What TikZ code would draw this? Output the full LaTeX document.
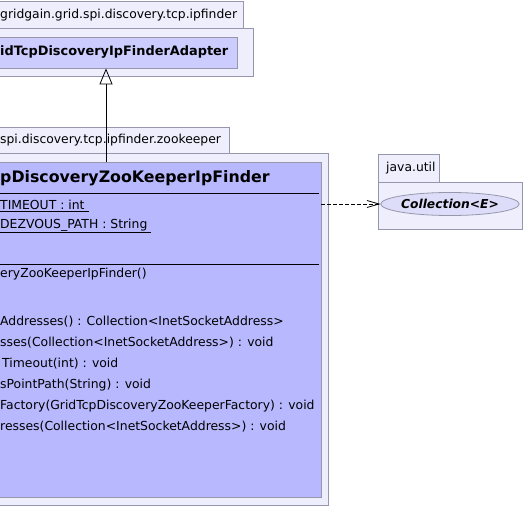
\documentclass[tikz,border=0pt]{standalone}
\usepackage{fontspec}
\setmainfont{DejaVu Sans}
\usetikzlibrary{arrows.meta, shapes.geometric}
\definecolor{pkgfill}{RGB}{238,238,252}
\definecolor{pkgline}{RGB}{150,150,172}
\definecolor{clsfill}{RGB}{184,184,255}
\definecolor{supfill}{RGB}{204,204,255}
\definecolor{extfill}{RGB}{221,221,250}
\tikzset{
    pkg/.style={draw=pkgline, fill=pkgfill, line width=.8pt},
    clsbox/.style={draw=pkgline, line width=.8pt, inner sep=0pt},
    txt/.style={anchor=west, inner sep=0pt, font=\fontsize{12.4}{14}\selectfont},
    gen/.style={-{Triangle[open, width=13pt, length=16pt]}, line width=.8pt},
    dep/.style={-{Straight Barb[width=7pt, length=12pt]}, dashed, dash pattern=on 4pt off 2pt, line width=.8pt}
}
\newcommand{\umlPkg}[5]{
    \draw[pkg](-5, #4)rectangle(#2, #5);
    \draw[pkg](-5, #5)rectangle(#3, #1)
}

\begin{document}
\begin{tikzpicture}[x=1pt, y=-1pt]
    \useasboundingbox (0, 0) rectangle (524, 508);
    % packages
    \umlPkg{76}{243}{253}{1}{28};
    \umlPkg{505}{229}{328}{127}{153};
    \draw[pkg](378, 154)rectangle(439, 182);
    \draw[pkg](378, 182)rectangle(522, 229);
    \node[txt, font=\fontsize{12.35}{14}\selectfont] (pkgtop) at (0, 15) {gridgain.grid.spi.discovery.tcp.ipfinder};
    \node[txt, font=\fontsize{12.35}{14}\selectfont] (pkgzk) at (0, 140) {spi.discovery.tcp.ipfinder.zookeeper};
    \node[txt, font=\fontsize{12.35}{14}\selectfont] (pkgutil) at (386, 168) {java.util};
    % classes
    \node[clsbox, fill=supfill, minimum width=242pt, minimum height=31pt] (adapter) at (116, 52.5) {};
    \node[txt, font=\fontsize{12.9}{15}\selectfont\bfseries] (adaptername) at (0, 52) {idTcpDiscoveryIpFinderAdapter};
    \node[clsbox, fill=clsfill, minimum width=326pt, minimum height=335pt] (zk) at (158, 329.5) {};
    \node[clsbox, ellipse, fill=extfill, minimum width=128pt, minimum height=23pt,
        font=\fontsize{12.3}{14}\selectfont\bfseries\itshape] (coll) at (450, 204) {Collection<E>};
    \draw[line width=.8pt](zk.west |- 0, 193)--(319, 193);
    \draw[line width=.8pt](zk.west |- 0, 264)--(319, 264);
    \node[txt, font=\fontsize{15.8}{18}\selectfont\bfseries] (zkname) at (0, 178) {pDiscoveryZooKeeperIpFinder};
    \node[txt] (a1) at (0, 206) {\underline{TIMEOUT : int~}};
    \node[txt] (a2) at (0, 226) {\underline{DEZVOUS\_PATH : String~}};
    \node[txt] (m0) at (0, 274) {eryZooKeeperIpFinder()};
    \node[txt] (m1) at (0, 322) {Addresses() : Collection<InetSocketAddress>};
    \node[txt] (m2) at (0, 343) {sses(Collection<InetSocketAddress>) : void};
    \node[txt] (m3) at (2, 364) {Timeout(int) : void};
    \node[txt] (m4) at (0, 385) {sPointPath(String) : void};
    \node[txt] (m5) at (0, 406) {Factory(GridTcpDiscoveryZooKeeperFactory) : void};
    \node[txt] (m6) at (0, 427) {resses(Collection<InetSocketAddress>) : void};
    % relations
    \coordinate (genx) at (106, 0);
    \draw[gen](zk.north -| genx)--(adapter.south -| genx);
    \draw[dep](zk.east |- coll.west)--(coll.west);
\end{tikzpicture}
\end{document}
